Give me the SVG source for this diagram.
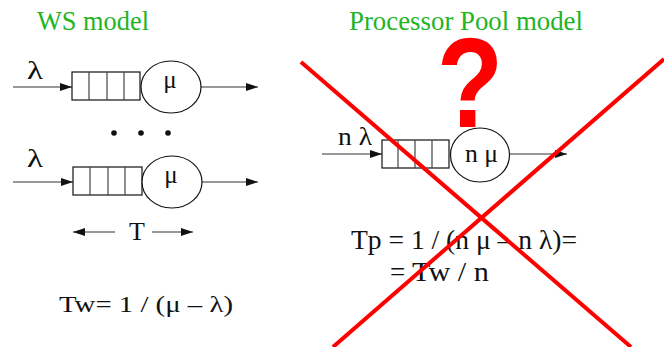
<svg xmlns="http://www.w3.org/2000/svg" width="664" height="347" viewBox="0 0 664 347">
<style>
.t{fill:#111}
.g{fill:#22b422;font-size:27px}
.ln{stroke:#333;stroke-width:1.2;fill:none}
.q{stroke:#111;stroke-width:1.2;fill:#fff}
.dv{stroke:#444;stroke-width:1.2}
.x{stroke:#ff0000;stroke-width:4;stroke-linecap:butt}
</style>
<defs>
<marker id="ah" viewBox="0 0 12 8" refX="12" refY="4" markerWidth="12" markerHeight="8" markerUnits="userSpaceOnUse" orient="auto">
<path d="M0,0 L12,4 L0,8 Z" fill="#111"/>
</marker>
</defs>
<rect width="664" height="347" fill="#fff"/>
<g font-family="Liberation Serif, Times New Roman, serif">
<text class="g" x="37" y="30" textLength="112" lengthAdjust="spacingAndGlyphs">WS model</text>
<text class="g" x="349" y="30" textLength="234" lengthAdjust="spacingAndGlyphs">Processor Pool model</text>
</g>

<g id="connectors">
<line class="ln" x1="13" y1="87" x2="72" y2="87" marker-end="url(#ah)"/>
<line class="ln" x1="200" y1="87" x2="258" y2="87" marker-end="url(#ah)"/>
<line class="ln" x1="13" y1="182" x2="73" y2="182" marker-end="url(#ah)"/>
<line class="ln" x1="202" y1="182" x2="258" y2="182" marker-end="url(#ah)"/>
<line class="ln" x1="115" y1="232" x2="73" y2="232" marker-end="url(#ah)"/>
<line class="ln" x1="152" y1="232" x2="193" y2="232" marker-end="url(#ah)"/>
<line class="ln" x1="322" y1="154" x2="382" y2="154" marker-end="url(#ah)"/>
<line class="ln" x1="509" y1="154" x2="567" y2="154" marker-end="url(#ah)"/>
</g>

<g id="ws1" font-family="Liberation Serif, Times New Roman, serif">
<text class="t" x="27" y="79" font-size="25" textLength="16" lengthAdjust="spacingAndGlyphs">λ</text>
<rect class="q" x="72" y="72" width="68" height="28"/>
<line class="dv" x1="89" y1="72" x2="89" y2="100"/>
<line class="dv" x1="107" y1="72" x2="107" y2="100"/>
<line class="dv" x1="124" y1="72" x2="124" y2="100"/>
<ellipse class="q" cx="171" cy="87" rx="30" ry="26"/>
<text class="t" x="170" y="88" font-size="25" text-anchor="middle">μ</text>
</g>

<g id="dots" fill="#111">
<circle cx="114" cy="133" r="2.8"/>
<circle cx="141" cy="133" r="2.8"/>
<circle cx="168" cy="133" r="2.8"/>
</g>

<g id="ws2" font-family="Liberation Serif, Times New Roman, serif">
<text class="t" x="27" y="167" font-size="25" textLength="16" lengthAdjust="spacingAndGlyphs">λ</text>
<rect class="q" x="73" y="167" width="69" height="28"/>
<line class="dv" x1="90" y1="167" x2="90" y2="195"/>
<line class="dv" x1="108" y1="167" x2="108" y2="195"/>
<line class="dv" x1="125" y1="167" x2="125" y2="195"/>
<ellipse class="q" cx="172" cy="182" rx="30" ry="26"/>
<text class="t" x="171" y="183" font-size="25" text-anchor="middle">μ</text>
</g>

<g id="tlabel" font-family="Liberation Serif, Times New Roman, serif">
<text class="t" x="137" y="240" font-size="26" text-anchor="middle">T</text>
</g>

<g id="tw" font-family="Liberation Serif, Times New Roman, serif">
<text class="t" x="59" y="312" font-size="24" textLength="174" lengthAdjust="spacingAndGlyphs">Tw= 1 / (μ – λ)</text>
</g>

<g id="pp" font-family="Liberation Serif, Times New Roman, serif">
<text class="t" x="338" y="145" font-size="26" textLength="34" lengthAdjust="spacingAndGlyphs">n λ</text>
<rect class="q" x="382" y="140" width="67" height="28"/>
<line class="dv" x1="398" y1="140" x2="398" y2="168"/>
<line class="dv" x1="415" y1="140" x2="415" y2="168"/>
<line class="dv" x1="432" y1="140" x2="432" y2="168"/>
<ellipse class="q" cx="480" cy="155" rx="29.5" ry="27"/>
<text class="t" x="465" y="162" font-size="26" textLength="33" lengthAdjust="spacingAndGlyphs">n μ</text>
</g>

<g id="question">
<text transform="translate(470,127) scale(0.85,1)" x="0" y="0" font-family="Liberation Sans, Arial, sans-serif" font-weight="bold" font-size="128" fill="#ff0000" text-anchor="middle">?</text>
</g>

<g id="tp" font-family="Liberation Serif, Times New Roman, serif">
<text class="t" x="351" y="249" font-size="27" textLength="226" lengthAdjust="spacingAndGlyphs">Tp = 1 / (n μ – n λ)=</text>
<text class="t" y="281" font-size="27"><tspan x="390">=</tspan><tspan x="412" textLength="77" lengthAdjust="spacingAndGlyphs">Tw / n</tspan></text>
</g>

<g id="cross">
<line class="x" x1="301" y1="62" x2="631" y2="347"/>
<line class="x" x1="664" y1="59" x2="333" y2="347"/>
</g>
</svg>
